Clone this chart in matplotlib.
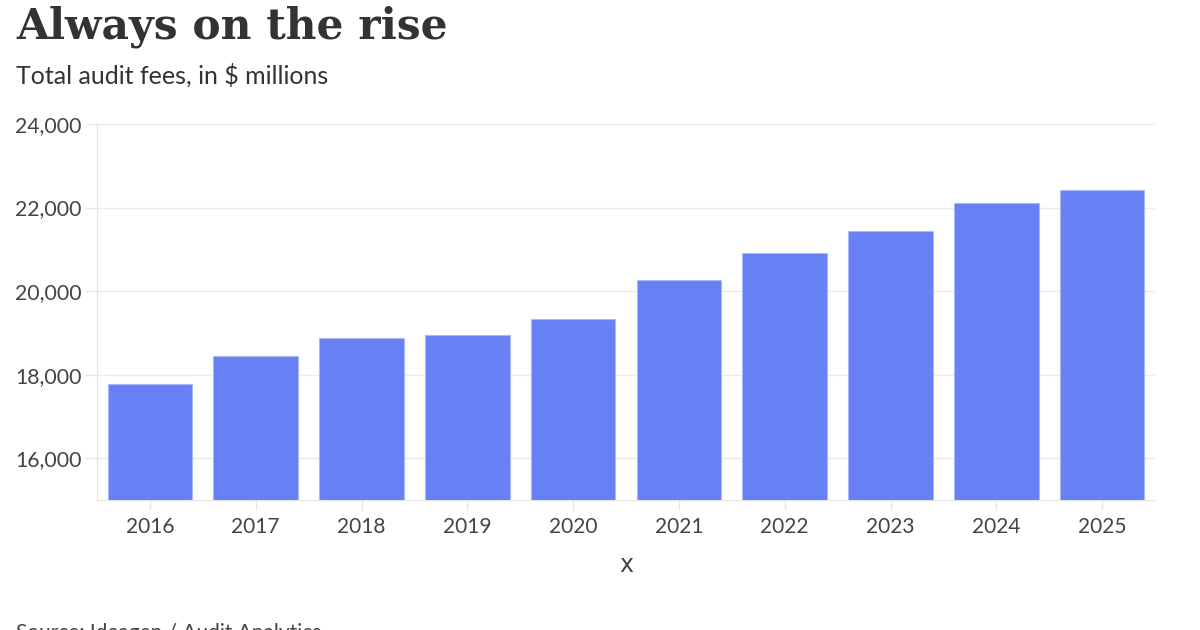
import matplotlib
matplotlib.use("Agg")
import matplotlib.pyplot as plt
from matplotlib.ticker import FuncFormatter

years = ["2016", "2017", "2018", "2019", "2020", "2021", "2022", "2023", "2024", "2025"]
fees = [17770, 18440, 18870, 18940, 19330, 20260, 20910, 21440, 22110, 22420]
yticks = [16000, 18000, 20000, 22000, 24000]

title = "Always on the rise"
subtitle = "Total audit fees, in $ millions"
source = "Source: Ideagen / Audit Analytics"

fig = plt.figure(figsize=(12, 6.3), dpi=100)
ax = fig.add_axes([97/1200, 1 - 500/630, (1155-97)/1200, (500-124)/630])

ax.bar(range(len(years)), fees, width=0.8, bottom=0, color="#6781f5",
       edgecolor="#a9b8fa", linewidth=0.8, zorder=3)
ax.set_xlim(-0.5, len(years) - 0.5)
ax.set_ylim(15000, 24000)
ax.set_yticks(yticks)
ax.yaxis.set_major_formatter(FuncFormatter(lambda v, p: f"{int(v):,}"))
ax.set_xticks(range(len(years)))
ax.set_xticklabels(years)

ax.grid(axis="y", color="#ebebeb", linewidth=1, zorder=0)
for s in ["top", "right"]:
    ax.spines[s].set_visible(False)
for s in ["left", "bottom"]:
    ax.spines[s].set_color("#e6e6e6")
    ax.spines[s].set_linewidth(1)

ax.tick_params(axis="y", length=9, width=1, color="#e6e6e6", labelsize=15.3,
               labelcolor="#444444", pad=2)
ax.tick_params(axis="x", length=7, width=1, color="#e6e6e6", labelsize=15,
               labelcolor="#444444", pad=5)
for lbl in ax.get_xticklabels() + ax.get_yticklabels():
    lbl.set_fontfamily("Lato")

ax.set_xlabel("x", fontsize=17, color="#444444", family="DejaVu Sans", labelpad=12)

fig.text(16/1200, 1 - 39/630, title, fontsize=30.5, fontweight="bold",
         family="DejaVu Serif", color="#333333", ha="left", va="baseline")
fig.text(16/1200, 1 - 84/630, subtitle, fontsize=18, family="Lato",
         color="#333333", ha="left", va="baseline")
fig.text(16/1200, 1 - 639/630, source, fontsize=15, family="Lato",
         color="#444444", ha="left", va="baseline")

fig.savefig("out.png", dpi=100, facecolor="white")
